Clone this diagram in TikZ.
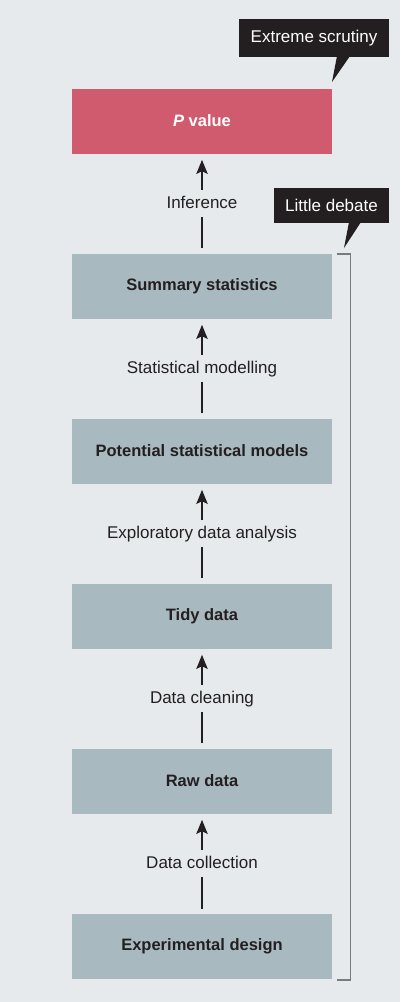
\documentclass[tikz,border=0pt]{standalone}
\usepackage{fontspec}
\setmainfont{Liberation Sans}
\usetikzlibrary{arrows.meta}
\definecolor{bg}{HTML}{E6EAED}
\definecolor{ink}{HTML}{231F20}
\definecolor{pinkbox}{HTML}{D05B6F}
\definecolor{boxgray}{HTML}{A8B9BF}
\definecolor{brk}{HTML}{7A7A7A}
\begin{document}
\begin{tikzpicture}[x=1pt,y=-1pt,
  box/.style={minimum width=260pt, minimum height=65pt, inner sep=0pt,
    font=\fontsize{16.5}{20}\selectfont\bfseries, text=ink, fill=boxgray},
  lab/.style={font=\fontsize{17}{20}\selectfont, text=ink, inner sep=0pt,
    minimum height=27pt, text height=12.5pt, text depth=3.5pt},
  callout/.style={fill=ink, text=white, inner sep=0pt,
    font=\fontsize{17}{20}\selectfont},
  arr/.style={line width=2.9pt, draw=ink, -{Stealth[length=14pt,width=11pt,inset=2.5pt]}, shorten >=6pt},
  seg/.style={line width=2.9pt, draw=ink, shorten <=5pt},
  bracket/.style={draw=brk, line width=1.5pt}
]
\fill[bg] (0,0) rectangle (400,1002);
\useasboundingbox (0,0) rectangle (400,1002);

\node[box, fill=pinkbox, text=white] (p) at (202,121) {\textit{P} value};
\node[box] (sum) at (202,286) {Summary statistics};
\node[box] (pot) at (202,451) {Potential statistical models};
\node[box] (tidy) at (202,616) {Tidy data};
\node[box] (raw) at (202,781) {Raw data};
\node[box] (exp) at (202,946.5) {Experimental design};

\node[lab] (l1) at (202,203.5) {Inference};
\node[lab] (l2) at (202,368.5) {Statistical modelling};
\node[lab] (l3) at (202,533.5) {Exploratory data analysis};
\node[lab] (l4) at (202,698.5) {Data cleaning};
\node[lab] (l5) at (202,863.5) {Data collection};

\draw[arr] (l1) -- (p);   \draw[seg] (sum) -- (l1);
\draw[arr] (l2) -- (sum); \draw[seg] (pot) -- (l2);
\draw[arr] (l3) -- (pot); \draw[seg] (tidy) -- (l3);
\draw[arr] (l4) -- (tidy); \draw[seg] (raw) -- (l4);
\draw[arr] (l5) -- (raw); \draw[seg] (exp) -- (l5);

% callouts
\node[callout, minimum width=150pt, minimum height=38pt] (es) at (314,38) {Extreme scrutiny};
\fill[ink] (337,56) -- (350,56) -- (332,82) -- cycle;
\node[callout, minimum width=115pt, minimum height=35pt] (ld) at (331.5,205.5) {Little debate};
\fill[ink] (349,222) -- (361,222) -- (344,248) -- cycle;

% bracket
\coordinate (bt) at (337,254);
\coordinate (bb) at (337,980);
\draw[bracket] (bt) -- (350.5,254) -- (350.5,980) -- (bb);
\end{tikzpicture}
\end{document}
